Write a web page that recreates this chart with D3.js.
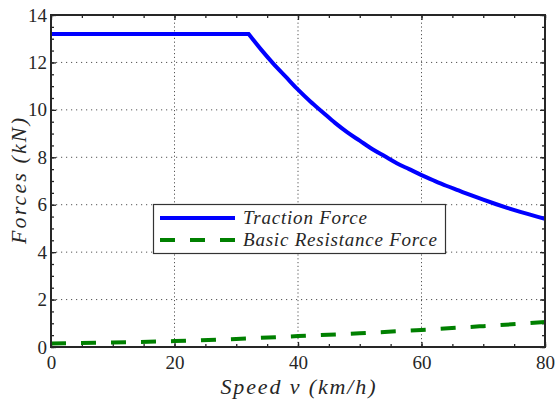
<!DOCTYPE html>
<html>
<head>
<meta charset="utf-8">
<script src="https://cdn.jsdelivr.net/npm/d3@7"></script>
<style>
  body { margin: 0; background: #fff; }
</style>
</head>
<body>
<div id="canvas"></div>
<script>
"use strict";

/* ===============================
   Data */
let tractionSpeed = [0, 32, 34, 36, 38, 40, 42, 44, 46, 48, 50, 52, 54, 56, 58, 60, 62, 64, 66, 68, 70, 72, 74, 76, 78, 80];
let tractionForce = [13.2, 13.2, 12.55, 11.95, 11.4, 10.85, 10.35, 9.9, 9.45, 9.05, 8.7, 8.35, 8.05, 7.75, 7.5, 7.25, 7.02, 6.8, 6.6, 6.4, 6.21, 6.03, 5.86, 5.7, 5.55, 5.4];
let resistSpeed = [0, 10, 20, 30, 40, 50, 60, 70, 80];
let resistForce = [0.15, 0.19, 0.25, 0.34, 0.46, 0.58, 0.72, 0.88, 1.05];
let xTicks = [0, 20, 40, 60, 80];
let yTicks = [0, 2, 4, 6, 8, 10, 12, 14];
let seriesNames = ["Traction Force", "Basic Resistance Force"];

/* ===============================
   Configuration */
let svgWidth = 555;
let svgHeight = 403;
let plotLeft = 51;
let plotRight = 545;
let plotTop = 15;
let plotBottom = 347;
let serif = "Liberation Serif";
let ink = "#262626";

let svg = d3.select("#canvas")
  .append("svg")
  .attr("width", svgWidth)
  .attr("height", svgHeight);

let xScale = d3.scaleLinear().domain([0, 80]).range([plotLeft, plotRight]);
let yScale = d3.scaleLinear().domain([0, 14]).range([plotBottom, plotTop]);

/* Grid (dotted) */
svg.append("g")
  .selectAll("line")
  .data(xTicks.slice(1, -1))
  .join("line")
  .attr("x1", d => xScale(d)).attr("x2", d => xScale(d))
  .attr("y1", plotTop).attr("y2", plotBottom)
  .attr("stroke", "#555")
  .attr("stroke-width", 1)
  .attr("stroke-dasharray", "1.2,2.6");

svg.append("g")
  .selectAll("line")
  .data(yTicks.slice(1, -1))
  .join("line")
  .attr("x1", plotLeft).attr("x2", plotRight)
  .attr("y1", d => yScale(d)).attr("y2", d => yScale(d))
  .attr("stroke", "#555")
  .attr("stroke-width", 1)
  .attr("stroke-dasharray", "1.2,3.8");

/* Axes: inward ticks on all four sides */
let xMinor = d3.range(0, 80.1, 5);
let yMinor = d3.range(0, 14.01, 0.5);

function axisSide(axis, transform) {
  let g = svg.append("g").attr("transform", transform).call(axis);
  g.select(".domain").remove();
  g.selectAll(".tick line").attr("stroke", ink).attr("stroke-width", 1.3);
  g.selectAll(".tick text")
    .style("font-family", serif)
    .style("font-size", "19px")
    .style("fill", ink);
  return g;
}

axisSide(d3.axisBottom(xScale).tickValues(xMinor).tickSize(-3).tickFormat(""), `translate(0,${plotBottom})`);
axisSide(d3.axisTop(xScale).tickValues(xMinor).tickSize(-3).tickFormat(""), `translate(0,${plotTop})`);
axisSide(d3.axisLeft(yScale).tickValues(yMinor).tickSize(-3).tickFormat(""), `translate(${plotLeft},0)`);
axisSide(d3.axisRight(yScale).tickValues(yMinor).tickSize(-3).tickFormat(""), `translate(${plotRight},0)`);

axisSide(d3.axisBottom(xScale).tickValues(xTicks).tickSize(-5).tickPadding(9), `translate(0,${plotBottom})`);
axisSide(d3.axisTop(xScale).tickValues(xTicks).tickSize(-5).tickFormat(""), `translate(0,${plotTop})`);
axisSide(d3.axisLeft(yScale).tickValues(yTicks).tickSize(-5).tickPadding(4), `translate(${plotLeft},0)`);
axisSide(d3.axisRight(yScale).tickValues(yTicks).tickSize(-5).tickFormat(""), `translate(${plotRight},0)`);

/* Lines */
svg.append("clipPath").attr("id", "plotClip")
  .append("rect")
  .attr("x", plotLeft).attr("y", plotTop)
  .attr("width", plotRight - plotLeft).attr("height", plotBottom - plotTop);

let smooth = d3.line()
  .curve(d3.curveMonotoneX)
  .x(d => xScale(d[0]))
  .y(d => yScale(d[1]));

svg.append("path")
  .datum(d3.zip(resistSpeed, resistForce))
  .attr("clip-path", "url(#plotClip)")
  .attr("d", smooth)
  .attr("fill", "none")
  .attr("stroke", "#008000")
  .attr("stroke-width", 4)
  .attr("stroke-dasharray", "15,15");

/* traction: flat part then the constant-power tail, sharp knee between */
let traction = d3.zip(tractionSpeed, tractionForce);
let tail = smooth(traction.slice(1));
let head = "M" + xScale(traction[0][0]) + "," + yScale(traction[0][1]) + "L";

svg.append("path")
  .attr("clip-path", "url(#plotClip)")
  .attr("d", head + tail.slice(1))
  .attr("fill", "none")
  .attr("stroke", "#0000ff")
  .attr("stroke-width", 4)
  .attr("stroke-linejoin", "miter");

/* Plot box */
svg.append("rect")
  .attr("x", plotLeft).attr("y", plotTop)
  .attr("width", plotRight - plotLeft).attr("height", plotBottom - plotTop)
  .attr("fill", "none")
  .attr("stroke", ink)
  .attr("stroke-width", 2);

/* Axis titles */
function italicText(sel, size) {
  return sel
    .style("font-family", serif)
    .style("font-size", size + "px")
    .style("font-style", "italic")
    .style("fill", ink);
}

italicText(svg.append("text"), 22)
  .attr("x", (plotLeft + plotRight) / 2)
  .attr("y", 394)
  .attr("text-anchor", "middle")
  .attr("textLength", 155)
  .text("Speed v (km/h)");

italicText(svg.append("text"), 22)
  .attr("transform", `translate(26,${(plotTop + plotBottom) / 2}) rotate(-90)`)
  .attr("text-anchor", "middle")
  .attr("textLength", 126)
  .text("Forces (kN)");

/* Legend */
let legend = svg.append("g");
legend.append("rect")
  .attr("x", 153.5).attr("y", 204.5)
  .attr("width", 292).attr("height", 49)
  .attr("fill", "#fff")
  .attr("stroke", "#333")
  .attr("stroke-width", 1.2);

let legendColors = ["#0000ff", "#008000"];
let legendDash = [null, "15,15"];
let legendLens = [124, 194];
seriesNames.forEach(function (name, i) {
  let cy = 218 + i * 22;
  legend.append("line")
    .attr("x1", 160).attr("x2", 235)
    .attr("y1", cy).attr("y2", cy)
    .attr("stroke", legendColors[i])
    .attr("stroke-width", 4)
    .attr("stroke-dasharray", legendDash[i]);
  italicText(legend.append("text"), 19)
    .attr("x", 243)
    .attr("y", cy + 6)
    .attr("textLength", legendLens[i])
    .text(name);
});
</script>
</body>
</html>
